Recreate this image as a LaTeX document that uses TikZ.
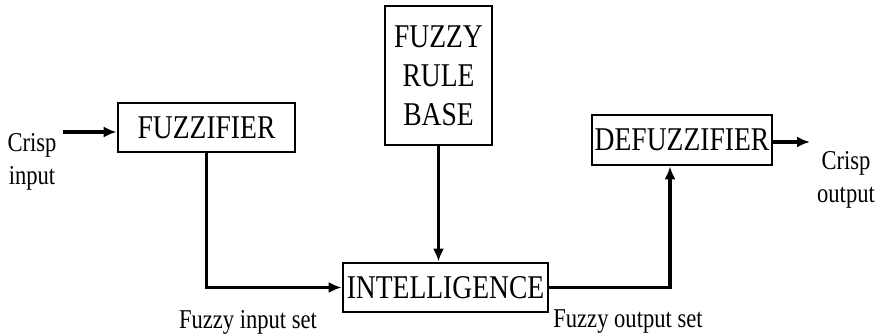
\documentclass[tikz,border=0pt]{standalone}
\usepackage{fontspec}
\setmainfont{Liberation Serif}[FakeStretch=0.83]
\usetikzlibrary{arrows.meta, positioning}

\begin{document}
\begin{tikzpicture}[
      x=1pt, y=1pt,
      blk/.style={draw, line width=1.35pt, inner sep=1pt, align=center, font=\fontsize{16.6}{19.5}\selectfont},
      lbl/.style={inner sep=0pt, align=center, font=\fontsize{13.6}{16.5}\selectfont},
      arr/.style={line width=1.6pt, -{Latex[length=6.5pt, width=5.5pt]}}
    ]
    \useasboundingbox (0,0) rectangle (440,166.5);

    \node[blk, minimum width=88.5pt, minimum height=24.5pt] (fz) at (103.25,102.75) {FUZZIFIER};
    \node[blk, minimum width=53.5pt, minimum height=69.5pt] (rb) at (219.25,128.75) {FUZZY\\RULE\\BASE};
    \node[blk, minimum width=90pt, minimum height=25pt] (dz) at (341,96.5) {DEFUZZIFIER};
    \node[blk, minimum width=102.5pt, minimum height=24.5pt] (intl) at (222.75,22.75) {INTELLIGENCE};

    \node[lbl] (cin) at (16,85.5) {Crisp\\input};
    \node[lbl] (cout) at (423,76.5) {Crisp\\output};
    \node[lbl] (fin) at (124,5.5) {Fuzzy input set};
    \node[lbl] (fout) at (314,5.5) {Fuzzy output set};

    \coordinate (cinend) at (31.5,100.5);
    \coordinate (coutend) at (405,95.5);

    \draw[arr] (cinend) -- (cinend -| fz.west);
    \draw[arr] (fz.south) |- (intl.west);
    \draw[arr] (rb.south) -- (rb.south |- intl.north);
    \draw[arr] (intl.east) -| ([xshift=-6pt]dz.south);
    \draw[arr] (dz.east |- coutend) -- (coutend);
  \end{tikzpicture}
\end{document}
